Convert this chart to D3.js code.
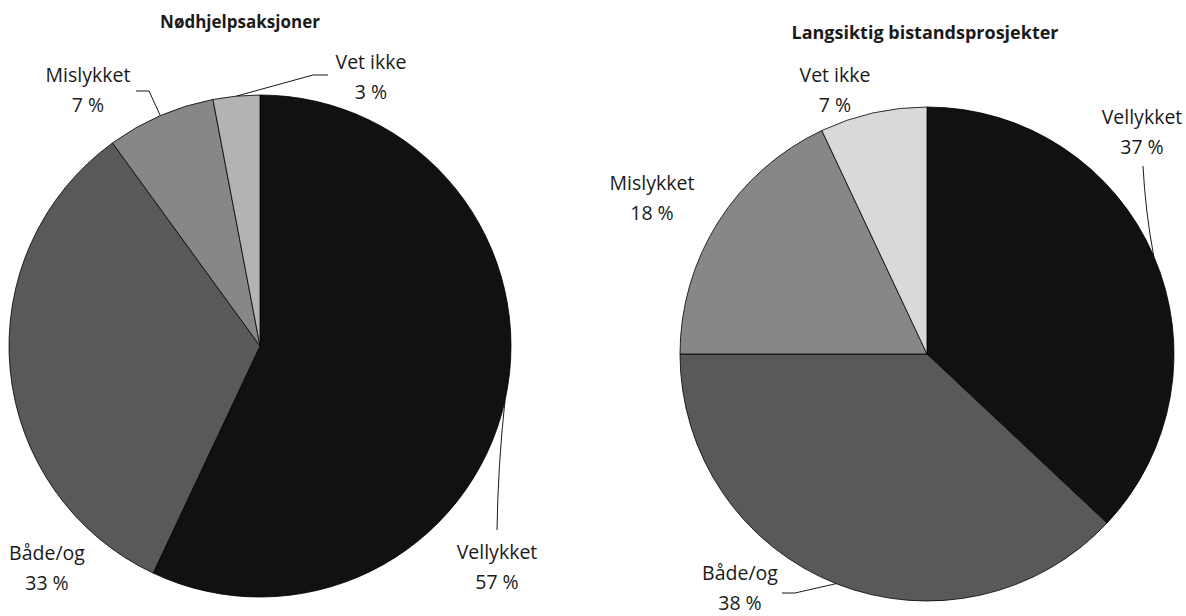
<!DOCTYPE html>
<html>
<head>
<meta charset="utf-8">
<script src="https://cdn.jsdelivr.net/npm/d3@7"></script>
<style>
  body { margin: 0; background: #fff; }
  svg { display: block; }
  text { font-family: "Open Sans", "Noto Sans", sans-serif; fill: #1a1a1a; }
</style>
</head>
<body>
<svg id="chart" width="1186" height="616"></svg>
<script>
// ---- data ----
const categories = ["Vellykket", "Både/og", "Mislykket", "Vet ikke"];
const titles = ["Nødhjelpsaksjoner", "Langsiktig bistandsprosjekter"];
const valuesEmergency = [57, 33, 7, 3];
const valuesLongTerm = [37, 38, 18, 7];
const colorsEmergency = ["#111111", "#595959", "#878787", "#b3b3b3"];
const colorsLongTerm = ["#111111", "#595959", "#878787", "#d9d9d9"];

// ---- layout (positions, not data) ----
const pies = [
  {
    title: titles[0], values: valuesEmergency, colors: colorsEmergency,
    cx: 260, cy: 346, r: 251, titleX: 240, titleY: 28, titleSize: 17,
    labels: [
      { x: 497, y: 559, leader: [[497, 530]], curve: true },
      { x: 47, y: 560, leader: null },
      { x: 88, y: 82, leader: [[149, 91], [136, 91]] },
      { x: 371, y: 69, leader: [[313, 75], [328, 75]] }
    ]
  },
  {
    title: titles[1], values: valuesLongTerm, colors: colorsLongTerm,
    cx: 927, cy: 354, r: 247, titleX: 925, titleY: 39, titleSize: 18,
    labels: [
      { x: 1142, y: 124, leader: [[1143, 166]], curve: true },
      { x: 740, y: 580, leader: [[795, 593], [782, 593]] },
      { x: 652, y: 190, leader: null },
      { x: 835, y: 82, leader: null }
    ]
  }
];

const svg = d3.select("#chart");
const pieGen = d3.pie().sort(null).value(d => d);

pies.forEach(p => {
  const g = svg.append("g");
  const arcs = pieGen(p.values);
  const arc = d3.arc().innerRadius(0).outerRadius(p.r);

  g.append("text")
    .attr("x", p.titleX).attr("y", p.titleY)
    .attr("text-anchor", "middle")
    .attr("font-size", p.titleSize).attr("font-weight", "bold")
    .text(p.title);

  g.append("g").attr("transform", `translate(${p.cx},${p.cy})`)
    .selectAll("path").data(arcs).join("path")
    .attr("d", arc)
    .attr("fill", (d, i) => p.colors[i])
    .attr("stroke", "#000").attr("stroke-width", 0.8);

  arcs.forEach((a, i) => {
    const lab = p.labels[i];
    const mid = (a.startAngle + a.endAngle) / 2;
    const ex = p.cx + p.r * Math.sin(mid);
    const ey = p.cy - p.r * Math.cos(mid);
    if (lab.leader) {
      let d;
      if (lab.curve) {
        const [tx, ty] = lab.leader[0];
        const qy = (ey + ty) / 2;
        d = `M${ex},${ey} Q${(ex + tx) / 2 - 3},${qy} ${tx},${ty}`;
      } else {
        d = "M" + [[ex, ey]].concat(lab.leader).map(pt => pt.join(",")).join("L");
      }
      svg.append("path").attr("d", d)
        .attr("fill", "none").attr("stroke", "#000").attr("stroke-width", 0.9);
    }
    const t = svg.append("text")
      .attr("text-anchor", "middle")
      .attr("font-size", 19.5);
    t.append("tspan").attr("x", lab.x).attr("y", lab.y).text(categories[i]);
    t.append("tspan").attr("x", lab.x).attr("y", lab.y + 30).text(p.values[i] + " %");
  });
});
</script>
</body>
</html>
